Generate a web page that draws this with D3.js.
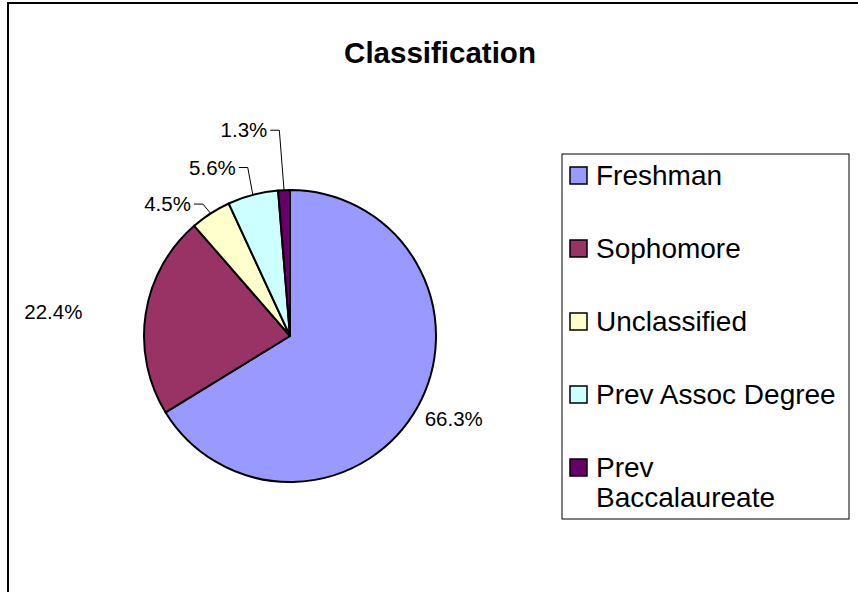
<!DOCTYPE html>
<html>
<head>
<meta charset="utf-8">
<script src="https://cdn.jsdelivr.net/npm/d3@7"></script>
<style>
  html, body { margin: 0; padding: 0; background: #fff; }
  svg { display: block; font-family: "Liberation Sans", Arial, sans-serif; }
</style>
</head>
<body>
<div id="chart"></div>
<script>
// data
const categories = ["Freshman", "Sophomore", "Unclassified", "Prev Assoc Degree", "Prev Baccalaureate"];
const legendLines = [["Freshman"], ["Sophomore"], ["Unclassified"], ["Prev Assoc Degree"], ["Prev", "Baccalaureate"]];
const percents = [66.3, 22.4, 4.5, 5.6, 1.3];
const colors = ["#9999ff", "#993366", "#ffffcc", "#ccffff", "#660066"];

// label placement (radius from centre, angle shift in degrees, leader line?)
const labelRadius = [158, 209, 165, 177, 207];
const labelShift = [2.3, -2.1, -4, -3.1, -3.95];
const labelLeader = [false, false, true, true, true];

const width = 858, height = 592;
const cx = 290, cy = 336, r = 146;

const svg = d3.select("#chart").append("svg")
  .attr("width", width)
  .attr("height", height);

// chart area frame
svg.append("rect")
  .attr("x", 8).attr("y", 3)
  .attr("width", 900).attr("height", 700)
  .attr("fill", "#fff")
  .attr("stroke", "#000")
  .attr("stroke-width", 2);

// title
svg.append("text")
  .attr("x", 440).attr("y", 63)
  .attr("text-anchor", "middle")
  .attr("font-size", 29.5)
  .attr("font-weight", "bold")
  .text("Classification");

const dataset = categories.map((c, i) => ({ name: c, value: percents[i], color: colors[i], i: i }));

const pie = d3.pie().sort(null).value(d => d.value);
const arcs = pie(dataset);
const arc = d3.arc().innerRadius(0).outerRadius(r);

const g = svg.append("g").attr("transform", `translate(${cx},${cy})`);

g.selectAll("path.slice")
  .data(arcs)
  .join("path")
  .attr("class", "slice")
  .attr("d", arc)
  .attr("fill", d => d.data.color)
  .attr("stroke", "#000")
  .attr("stroke-width", 2)
  .attr("stroke-linejoin", "round");

// labels
const polar = (ang, rad) => [Math.sin(ang) * rad, -Math.cos(ang) * rad];

arcs.forEach((d, i) => {
  const mid = (d.startAngle + d.endAngle) / 2;
  const [lx, ly] = polar(mid + labelShift[i] * Math.PI / 180, labelRadius[i]);
  const right = lx > 0;
  g.append("text")
    .attr("x", lx).attr("y", ly)
    .attr("dy", "0.35em")
    .attr("text-anchor", right ? "start" : "end")
    .attr("font-size", 20.5)
    .attr("fill", "#000")
    .text(d3.format(".1f")(d.data.value) + "%");

  if (labelLeader[i]) {
    const [ex, ey] = polar(mid, r);
    const sx = lx + 3;
    g.append("path")
      .attr("d", d3.line()([[sx, ly], [sx + 9, ly], [ex, ey]]))
      .attr("fill", "none")
      .attr("stroke", "#000")
      .attr("stroke-width", 1);
  }
});

// legend
const legend = svg.append("g");
legend.append("rect")
  .attr("x", 562).attr("y", 154)
  .attr("width", 287).attr("height", 365)
  .attr("fill", "#fff")
  .attr("stroke", "#000")
  .attr("stroke-width", 1);

const ly = d3.scalePoint().domain(categories).range([176, 468]);

const item = legend.selectAll("g.item")
  .data(dataset)
  .join("g")
  .attr("class", "item")
  .attr("transform", d => `translate(570,${ly(d.name)})`);

item.append("rect")
  .attr("x", 0).attr("y", -9)
  .attr("width", 17).attr("height", 17)
  .attr("fill", d => d.color)
  .attr("stroke", "#000")
  .attr("stroke-width", 1.5);

item.append("text")
  .attr("font-size", 28)
  .attr("fill", "#000")
  .selectAll("tspan")
  .data(d => legendLines[d.i])
  .join("tspan")
  .attr("x", 26)
  .attr("y", (t, j) => 9 + j * 30)
  .text(t => t);
</script>
</body>
</html>
